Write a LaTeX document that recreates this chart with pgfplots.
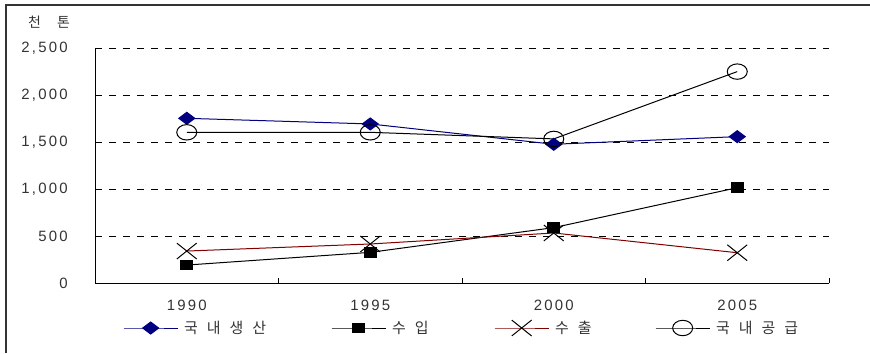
\documentclass[border=0pt]{standalone}
\usepackage{pgfplots}
\pgfplotsset{compat=1.18}
\usepackage{fontspec}
\setmainfont{Noto Sans CJK KR}
\newfontfamily\numfont[LetterSpace=15]{Liberation Sans}
\newfontfamily\krfont[LetterSpace=60]{Noto Sans CJK KR}
\definecolor{navyline}{HTML}{000080}
\definecolor{darkred}{HTML}{800000}
\definecolor{txt}{HTML}{333333}

\begin{document}
\begin{tikzpicture}[x=1bp,y=1bp]
\useasboundingbox (0,0) rectangle (870,353);
% frame
\draw[line width=2bp, black!80] (6,0) -- (6,348) -- (870,348);
% unit label
\node[anchor=west, inner sep=0pt, text=txt, font=\fontsize{14}{16}\selectfont] at (28,331) {천\hspace{16bp}톤};
\begin{axis}[
  at={(95bp,70bp)}, anchor=south west,
  scale only axis, width=734bp, height=235bp,
  xmin=0.5, xmax=4.5, ymin=0, ymax=2500,
  axis x line=bottom, axis y line=left,
  axis line style={-, line width=1bp, black},
  xtick={1,2,3,4}, xticklabels={1990,1995,2000,2005},
  minor xtick={0.5,1.5,2.5,3.5,4.5},
  major x tick style={draw=none},
  minor x tick style={line width=1bp, black},
  minor tick length=5bp,
  tick align=inside,
  ytick={0,500,...,2500},
  y tick style={draw=none},
  ymajorgrids,
  major grid style={line width=1bp, black, dash pattern=on 7bp off 7bp},
  /pgf/number format/.cd, 1000 sep={,}, assume math mode=true, /pgfplots/.cd,
  tick label style={font={\fontsize{15}{17}\numfont}, text=txt},
  xticklabel style={inner sep=0pt, anchor=north, yshift=-17bp},
  yticklabel style={inner sep=0pt, anchor=east, xshift=-27bp},
  legend columns=4,
  legend cell align=left,
  legend style={at={(0.0381,-0.1915)}, anchor=west, draw=none, fill=none,
    inner sep=0pt, font={\fontsize{15}{17}\krfont}, text=txt,
    nodes={inner sep=0pt},
    /tikz/every odd column/.append style={column sep=6bp}},
  legend image code/.code={\draw[mark repeat=2,mark phase=2,#1] plot coordinates {(0bp,0bp) (27bp,0bp) (54bp,0bp)};},
]
% domestic production
\addplot[navyline, line width=1bp, mark=diamond*, mark size=8bp,
  mark options={rotate=90, fill=navyline, draw=navyline}]
  coordinates {(1,1752) (2,1692) (3,1476) (4,1557)};
\addlegendentry{\makebox[147bp][l]{국내생산}}
% imports
\addplot[black, line width=1bp, mark=square*, mark size=6bp,
  mark options={yscale=0.8, fill=black}]
  coordinates {(1,191) (2,326) (3,589) (4,1014)};
\addlegendentry{\makebox[102bp][l]{수입}}
% exports
\addplot[darkred, line width=1bp, mark=x, mark size=14bp,
  mark options={black, yscale=0.8}]
  coordinates {(1,340) (2,415) (3,532) (4,322)};
\addlegendentry{\makebox[100bp][l]{수출}}
% domestic supply
\addplot[black, line width=1bp, mark=o, mark size=7.7bp,
  mark options={xscale=1.3}]
  coordinates {(1,1603) (2,1603) (3,1533) (4,2249)};
\addlegendentry{국내공급}
\end{axis}
\end{tikzpicture}
\end{document}
